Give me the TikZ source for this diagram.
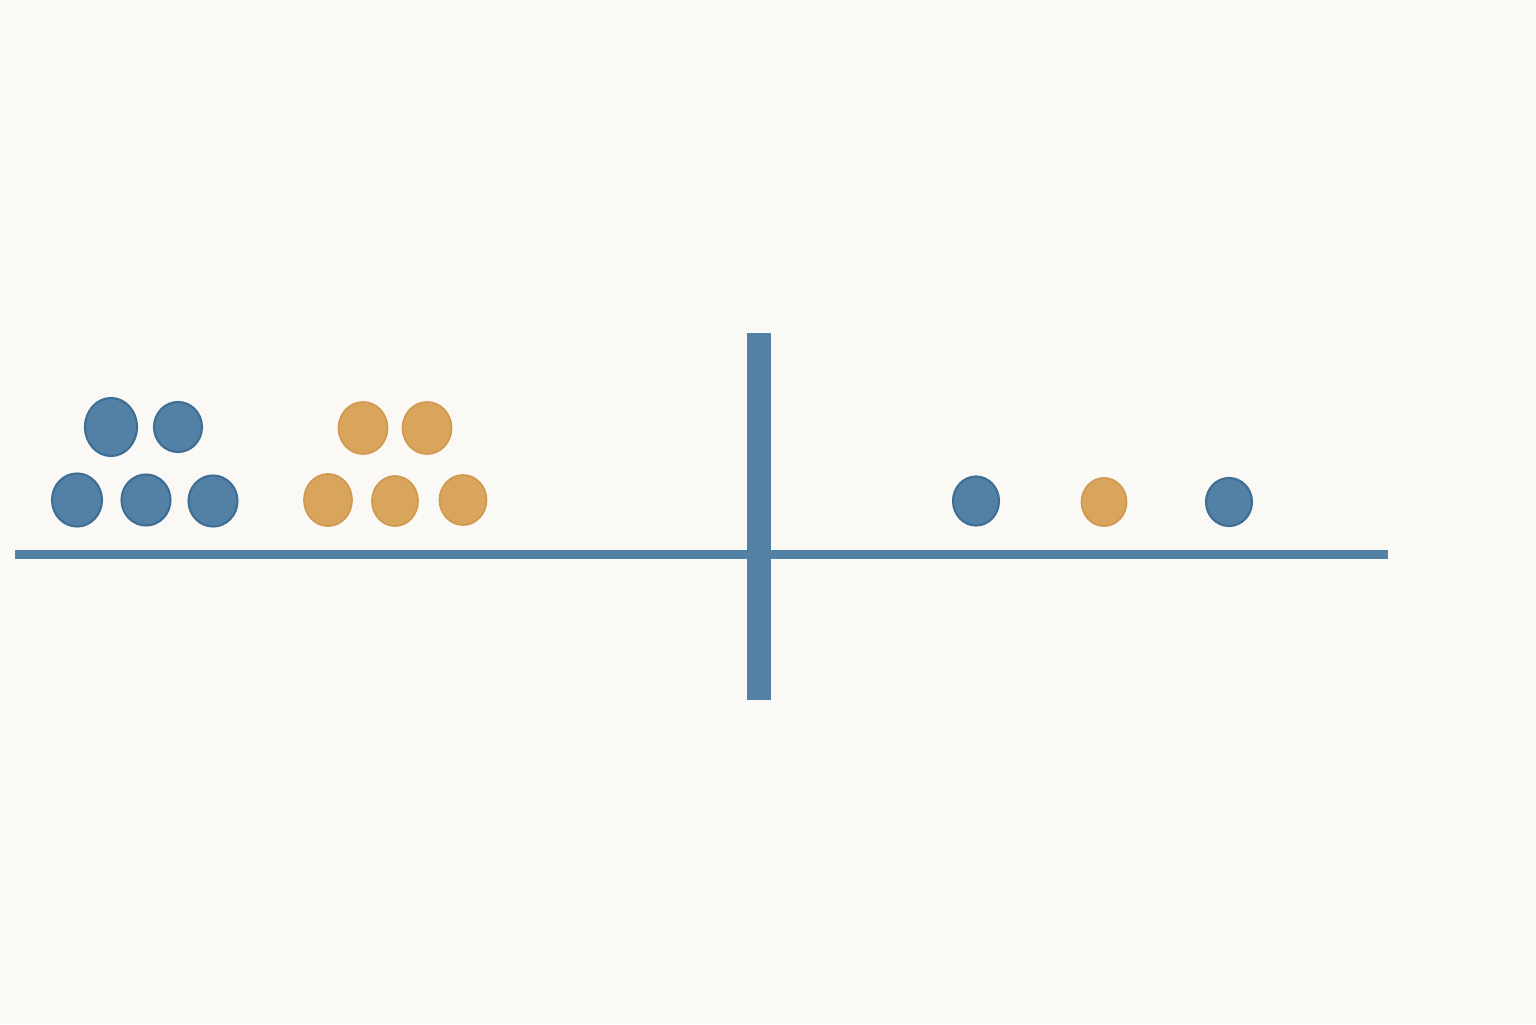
\documentclass[tikz,border=0pt]{standalone}
\usetikzlibrary{positioning}

\definecolor{paper}{HTML}{FAF9F5}
\definecolor{steel}{HTML}{5281A5}
\definecolor{steeldark}{HTML}{3F6E94}
\definecolor{ochre}{HTML}{D9A45C}
\definecolor{ochredark}{HTML}{CF9A4F}

\begin{document}
\begin{tikzpicture}[
  bluedot/.style={fill=steel,draw=steeldark,line width=0.6pt},
  orangedot/.style={fill=ochre,draw=ochredark,line width=0.5pt}]

\fill[color=paper] (0,0) rectangle (15.36,10.24);
\useasboundingbox (0,0) rectangle (15.36,10.24);

% axis and divider
\draw[color=steel,line width=0.09cm] (0.15,4.695)--(13.88,4.695);
\fill[color=steel] (7.47,3.24) rectangle (7.71,6.91);

% left group, blue
\draw[bluedot] (1.11,5.97) ellipse[x radius=0.26,y radius=0.29];
\draw[bluedot] (1.78,5.97) ellipse[x radius=0.24,y radius=0.25];
\draw[bluedot] (0.77,5.24) ellipse[x radius=0.25,y radius=0.265];
\draw[bluedot] (1.46,5.24) ellipse[x radius=0.245,y radius=0.255];
\draw[bluedot] (2.13,5.23) ellipse[x radius=0.245,y radius=0.255];

% left group, orange
\draw[orangedot] (3.63,5.96) ellipse[x radius=0.245,y radius=0.26];
\draw[orangedot] (4.27,5.96) ellipse[x radius=0.245,y radius=0.26];
\draw[orangedot] (3.28,5.24) ellipse[x radius=0.24,y radius=0.26];
\draw[orangedot] (3.95,5.23) ellipse[x radius=0.23,y radius=0.25];
\draw[orangedot] (4.63,5.24) ellipse[x radius=0.235,y radius=0.25];

% right group
\draw[bluedot] (9.76,5.23) ellipse[x radius=0.23,y radius=0.245];
\draw[orangedot] (11.04,5.22) ellipse[x radius=0.225,y radius=0.24];
\draw[bluedot] (12.29,5.22) ellipse[x radius=0.23,y radius=0.24];

\end{tikzpicture}
\end{document}
